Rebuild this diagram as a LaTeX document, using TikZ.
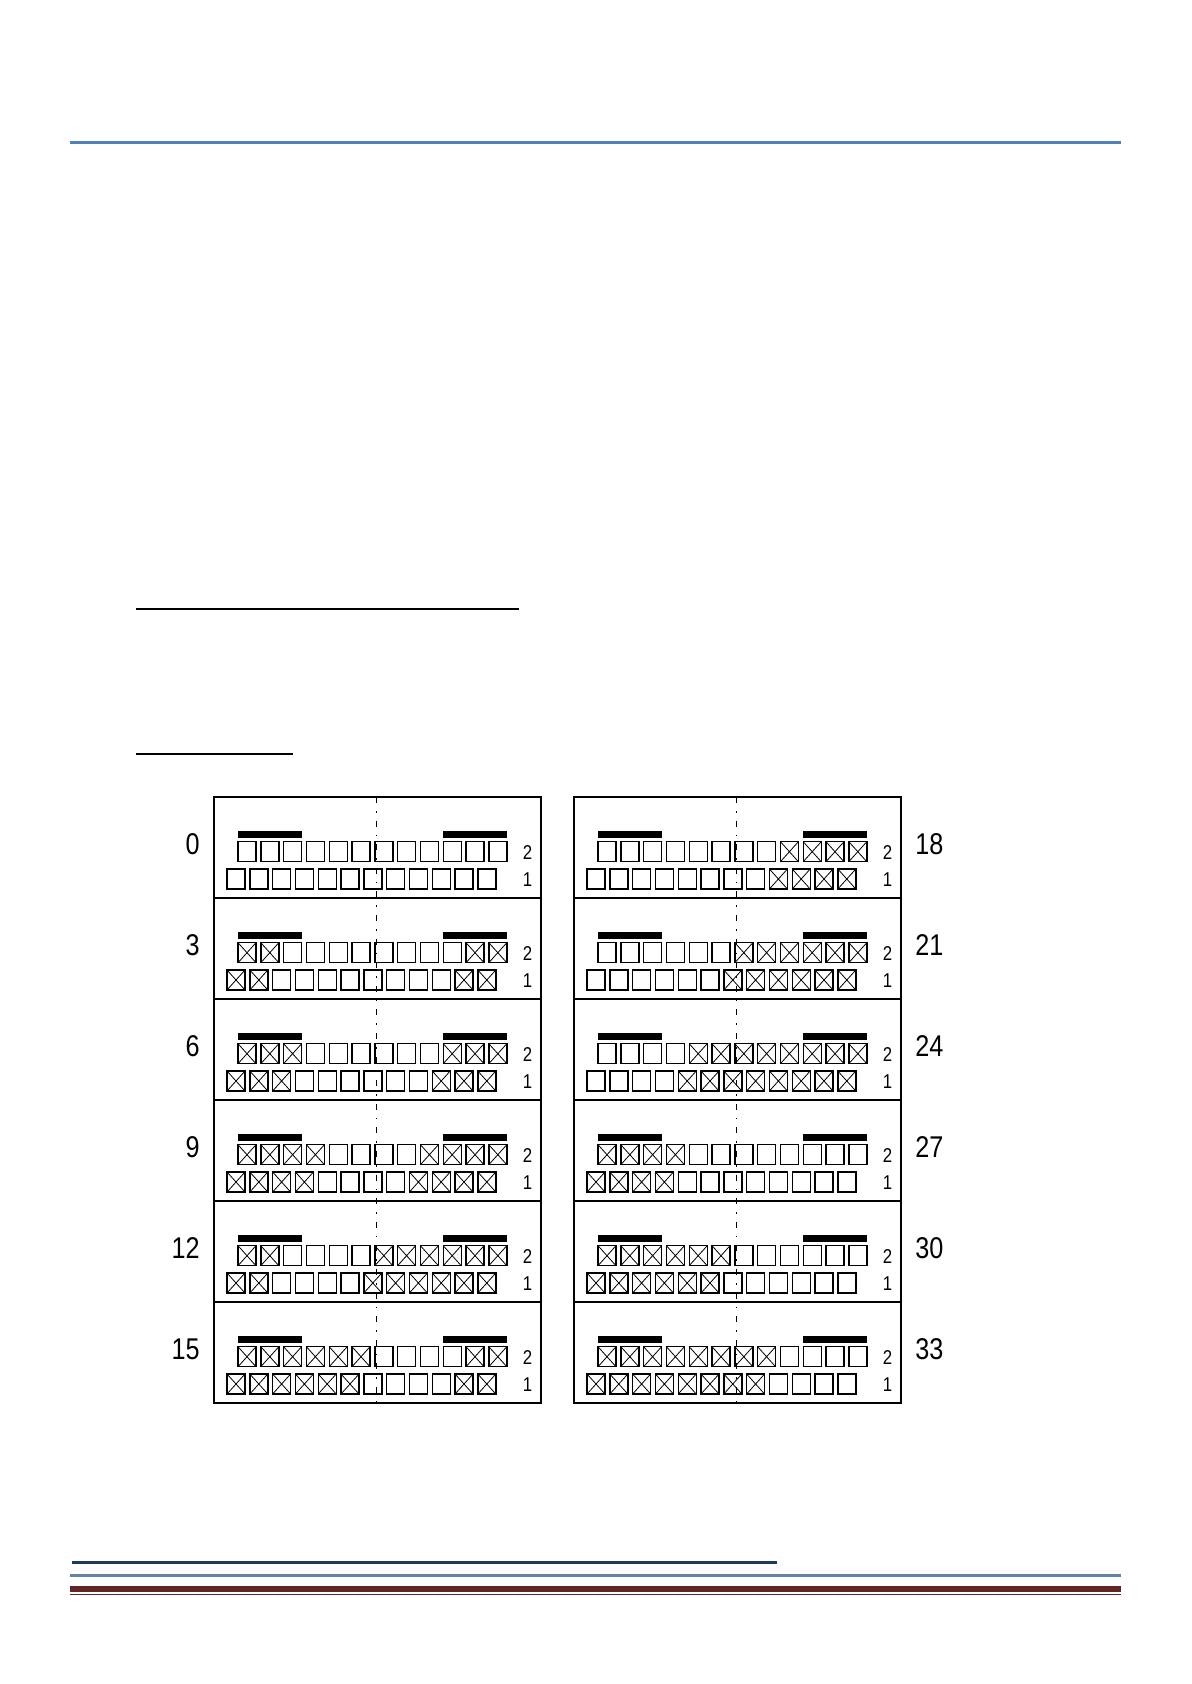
\documentclass[tikz,border=0pt]{standalone}
\usepackage{fontspec}
\setmainfont{Liberation Sans}
\newfontfamily\narrowsans[FakeStretch=0.84]{Liberation Sans}
\usepackage{xcolor}
\definecolor{headblue}{HTML}{4F81BD}
\definecolor{footnavy}{HTML}{1F3A5C}
\definecolor{footblue}{HTML}{6483A8}
\definecolor{footred}{HTML}{632523}

\begin{document}
\begin{tikzpicture}[x=0.5pt, y=-0.5pt,
  panel/.style={draw, line width=0.85pt},
  cell/.style={draw, line width=0.7pt},
  xmark/.style={draw, line width=0.4pt},
  bar/.style={line width=3.2pt},
  axisline/.style={line width=0.45pt, dash pattern=on 3pt off 4pt on 0.8pt off 4pt},
  rowlab/.style={font=\narrowsans\fontsize{15}{18}\selectfont, inner sep=0pt},
  sidelab/.style={font=\narrowsans\fontsize{10}{12}\selectfont, inner sep=0pt},
  hrule/.style={line width=1.1pt}
]
\useasboundingbox[fill=white] (0,0) rectangle (1191,1684);

% page rules
\draw[hrule, headblue] (70,142.5) -- (1121,142.5);
\draw[hrule] (136,609) -- (519,609);
\draw[hrule] (136,754) -- (292.7,754);
\draw[hrule, footnavy] (72,1562.5) -- (777,1562.5);
\draw[hrule, footblue] (70,1575.5) -- (1121,1575.5);
\draw[line width=2.8pt, footred] (70,1589) -- (1121,1589);
\draw[line width=0.5pt, footred] (70,1594.5) -- (1121,1594.5);

% the two panels
\foreach \px in {214,574}{
  \draw[panel] (\px,797) rectangle ++(327,606);
  \foreach \k in {1,...,5}
    \draw[panel] (\px,797+101*\k) -- ++(327,0);
}

% rows: label / panel x / row / crossed from left / crossed from right / label x / anchor
\foreach \lab/\px/\k/\a/\b/\lx/\anc in {
    0/214/0/0/0/200/east, 3/214/1/2/2/200/east, 6/214/2/3/3/200/east,
    9/214/3/4/4/200/east, 12/214/4/2/6/200/east, 15/214/5/6/2/200/east,
    18/574/0/0/4/915/west, 21/574/1/0/6/915/west, 24/574/2/0/8/915/west,
    27/574/3/4/0/915/west, 30/574/4/6/0/915/west, 33/574/5/8/0/915/west}{
  \pgfmathsetmacro\rowy{797+101*\k}
  \draw[bar] (\px+24,\rowy+37.5) -- ++(63.6,0);
  \draw[bar] (\px+229.2,\rowy+37.5) -- ++(63.6,0);
  \foreach \i in {1,...,12}{
    \pgfmathsetmacro\cx{\px+24+(\i-1)*22.8}
    \pgfmathsetmacro\dx{\px+13+(\i-1)*22.8}
    \draw[cell] (\cx,\rowy+44.7) rectangle ++(18,20);
    \draw[cell] (\dx,\rowy+72) rectangle ++(18,20);
    \pgfmathtruncatemacro\hit{(\i<=\a)||(\i>12-\b)}
    \ifnum\hit=1
      \draw[xmark] (\cx,\rowy+44.7) -- ++(18,20) (\cx+18,\rowy+44.7) -- ++(-18,20);
      \draw[xmark] (\dx,\rowy+72) -- ++(18,20) (\dx+18,\rowy+72) -- ++(-18,20);
    \fi
  }
  \node[rowlab, anchor=\anc] (row\lab) at (\lx,\rowy+47) {\lab};
  \node[sidelab] (two\lab) at (\px+313.5,\rowy+55.5) {2};
  \node[sidelab] (one\lab) at (\px+313.5,\rowy+82.5) {1};
}

% centre lines
\foreach \px in {214,574}
  \draw[axisline] (\px+162.5,797) -- ++(0,606);
\end{tikzpicture}
\end{document}
